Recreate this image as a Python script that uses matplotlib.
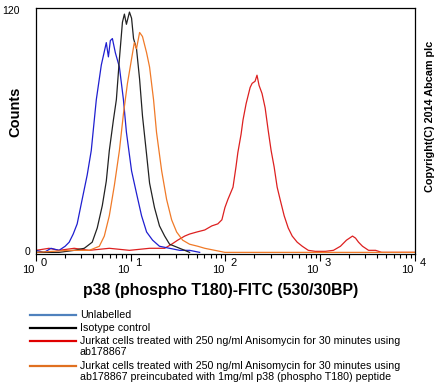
import matplotlib
matplotlib.use("Agg")
import matplotlib.pyplot as plt
from matplotlib.lines import Line2D
from matplotlib.ticker import LogLocator, NullFormatter

plt.rcParams['font.family'] = ['Liberation Sans', 'DejaVu Sans']

# fluorescence (FITC) and counts
blue_x = [1.0, 1.22, 1.44, 1.75, 2.03, 2.24, 2.47, 2.72, 3.07, 3.47, 3.83, 4.33, 4.89,
          5.52, 5.81, 6.09, 6.40, 6.88, 7.59, 8.37, 9.00, 10.2, 11.5, 13.0, 14.7, 17.0,
          20.1, 25.7, 32.8, 41.8, 53.4]
blue_y = [1, 0, 2, 1, 3, 5, 9, 14, 26, 38, 50, 75, 92,
          103, 96, 104, 105, 98, 91, 75, 59, 40, 29, 18, 10, 6,
          3, 2, 1, 1, 0]

black_x = [1.0, 1.75, 2.53, 3.23, 3.92, 4.43, 5.01, 5.52, 5.94, 6.56, 7.05, 7.59, 8.17,
           8.57, 9.00, 9.69, 10.2, 10.7, 11.5, 12.4, 13.3, 14.7, 15.8, 17.8, 20.1, 22.8,
           25.7, 29.1, 32.8, 37.1, 41.8]
black_y = [0, 0, 1, 2, 5, 12, 23, 35, 50, 65, 75, 95, 113,
           117, 112, 118, 115, 105, 100, 85, 67, 48, 34, 22, 13, 8,
           4, 3, 2, 1, 0]

orange_x = [1.0, 2.24, 3.65, 4.66, 5.26, 5.94, 6.72, 7.59, 8.37, 9.23, 10.2, 10.9, 11.5,
            12.4, 13.3, 14.7, 15.8, 17.4, 18.7, 21.2, 23.9, 27.0, 30.5, 35.3, 41.8, 51.0,
            60.4, 77.2, 98.6, 10000]
orange_y = [0, 1, 1, 3, 8, 18, 33, 50, 68, 83, 95, 103, 100,
            108, 106, 98, 91, 75, 59, 40, 26, 16, 10, 6, 4, 3,
            2, 1, 0, 0]

red_x = [1.0, 1.37, 1.75, 2.53, 3.65, 5.94, 9.69, 15.8, 22.8, 27.0, 31.3, 37.1, 41.8,
         49.8, 60.4, 71.7, 83.0, 91.6, 98.6, 106, 120, 129, 135, 146, 153, 165, 182,
         191, 205, 215, 226, 243, 262, 282, 303, 326, 351, 377, 416, 459, 506, 571,
         646, 748, 887, 1132, 1377, 1633, 1892, 2190, 2356, 2535, 2793, 3236, 3838,
         4446, 10000]
red_y = [1, 2, 1, 2, 1, 2, 1, 2, 2, 4, 6, 8, 9,
         10, 11, 13, 14, 16, 22, 26, 32, 42, 49, 58, 65, 73, 81,
         83, 84, 87, 82, 78, 71, 60, 50, 42, 32, 26, 18, 12, 8, 5,
         3, 1, 0.5, 0.5, 1, 3, 6, 8, 7, 5, 3, 1, 1,
         0, 0]

decades = [1, 10, 100, 1000, 10000]

legend_labels = [
    "Unlabelled",
    "Isotype control",
    "Jurkat cells treated with 250 ng/ml Anisomycin for 30 minutes using\nab178867",
    "Jurkat cells treated with 250 ng/ml Anisomycin for 30 minutes using\n"
    "ab178867 preincubated with 1mg/ml p38 (phospho T180) peptide",
]
legend_colors = ["#4f81bd", "#000000", "#e00000", "#e07020"]

W, H = 439, 392
fig = plt.figure(figsize=(W / 100, H / 100), dpi=100)
L, R, T, B = 36, 415, 8, 254
ax = fig.add_axes([L / W, 1 - B / H, (R - L) / W, (B - T) / H])

ax.plot(red_x, red_y, color="#dd2020", lw=0.9)
ax.plot(blue_x, blue_y, color="#1f1fd0", lw=0.9)
ax.plot(black_x, black_y, color="#222222", lw=0.9)
ax.plot(orange_x, orange_y, color="#f07a28", lw=0.9)

ax.set_xscale("log")
ax.set_xlim(1, 10000)
ax.set_ylim(-0.8, 120)
ax.set_yticks([])
ax.xaxis.set_minor_locator(LogLocator(base=10, subs=range(2, 10)))
ax.xaxis.set_minor_formatter(NullFormatter())
ax.set_xticks(decades)
ax.set_xticklabels([])
ax.tick_params(axis="x", which="major", length=5, direction="out", width=0.8)
ax.tick_params(axis="x", which="minor", length=3, direction="out", width=0.8)
for s in ax.spines.values():
    s.set_linewidth(0.9)

# y labels only at the ends
fig.text(20 / W, 1 - 11 / H, "120", ha="right", va="center", fontsize=7.5)
fig.text(30 / W, 1 - 252 / H, "0", ha="right", va="center", fontsize=7.5)

# x labels "10" with a raised exponent beside the tick
xt = ax.get_xaxis_transform()
for k, v in enumerate(decades):
    ax.text(v * 10 ** (-1.5 / 94.3), -(270 - B) / (B - T), "10", transform=xt,
            ha="right", va="center", fontsize=8)
    ax.text(v * 10 ** (4.5 / 94.3), -(263 - B) / (B - T), str(k), transform=xt,
            ha="left", va="center", fontsize=8)

fig.text(221 / W, 1 - 290 / H, "p38 (phospho T180)-FITC (530/30BP)", ha="center",
         va="center", fontsize=11.4, fontweight="bold")
fig.text(15 / W, 1 - 112 / H, "Counts", rotation=90, ha="center", va="center",
         fontsize=10.5, fontweight="bold")
fig.text(430 / W, 1 - 116 / H, "Copyright(C) 2014 Abcam plc", rotation=90,
         ha="center", va="center", fontsize=7.8, fontweight="bold")

# legend below the plot
rows = [315, 328, 341, 366]
for lab, col, yy in zip(legend_labels, legend_colors, rows):
    fig.add_artist(Line2D([30 / W, 76 / W], [1 - yy / H] * 2, color=col, lw=1.6))
    fig.text(80 / W, 1 - (yy - 5) / H, lab, ha="left", va="top", fontsize=7.7,
             linespacing=1.15)

fig.savefig("out.png", dpi=100)
